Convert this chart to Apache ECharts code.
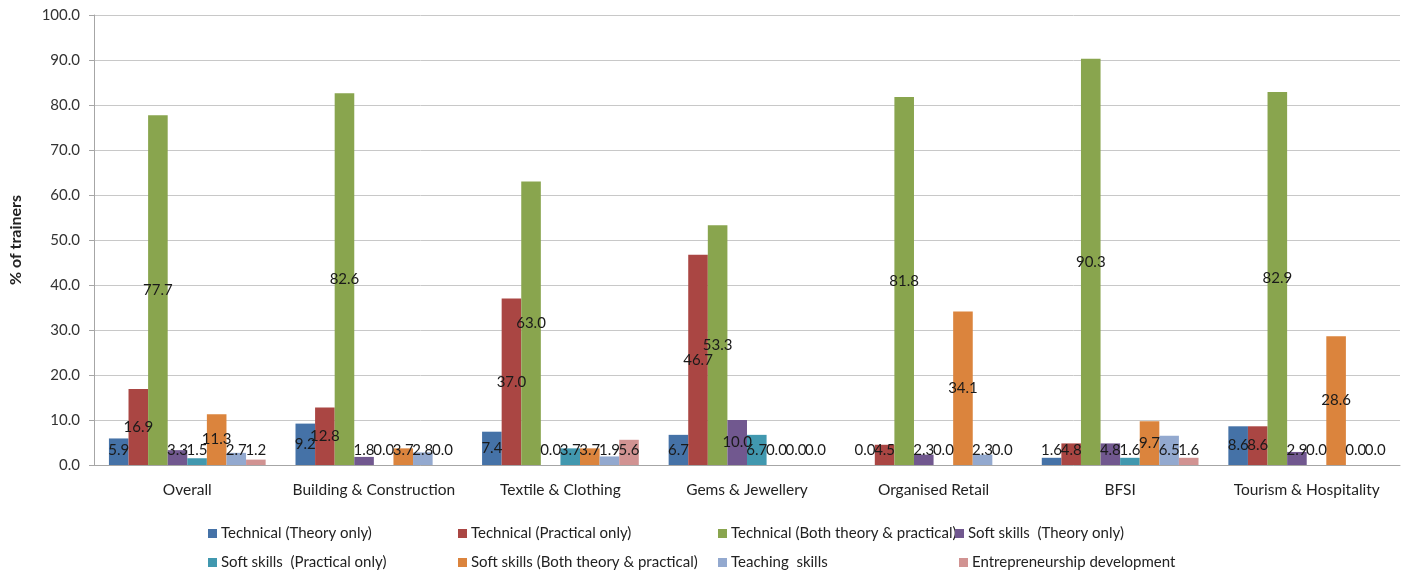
<!DOCTYPE html>
<html><head><meta charset="utf-8">
<script src="https://cdn.jsdelivr.net/npm/echarts@6/dist/echarts.min.js"></script>
<style>html,body{margin:0;padding:0;background:#fff}#c{width:1405px;height:574px}</style>
</head><body><div id="c"></div>
<script>
const categories = ["Overall","Building & Construction","Textile & Clothing","Gems & Jewellery","Organised Retail","BFSI","Tourism & Hospitality"];
const seriesNames = ["Technical (Theory only)","Technical (Practical only)","Technical (Both theory & practical)","Soft skills  (Theory only)","Soft skills  (Practical only)","Soft skills (Both theory & practical)","Teaching  skills","Entrepreneurship development"];
const techTheory     = [5.9, 9.2, 7.4, 6.7, 0.0, 1.6, 8.6];
const techPractical  = [16.9, 12.8, 37.0, 46.7, 4.5, 4.8, 8.6];
const techBoth       = [77.7, 82.6, 63.0, 53.3, 81.8, 90.3, 82.9];
const softTheory     = [3.3, 1.8, 0.0, 10.0, 2.3, 4.8, 2.9];
const softPractical  = [1.5, 0.0, 3.7, 6.7, 0.0, 1.6, 0.0];
const softBoth       = [11.3, 3.7, 3.7, 0.0, 34.1, 9.7, 28.6];
const teaching       = [2.7, 2.8, 1.9, 0.0, 2.3, 6.5, 0.0];
const entrepreneur   = [1.2, 0.0, 5.6, 0.0, 0.0, 1.6, 0.0];
const yTicks = [0,10,20,30,40,50,60,70,80,90,100];

const allData = [techTheory, techPractical, techBoth, softTheory, softPractical, softBoth, teaching, entrepreneur];
const colors = ['#4572A7','#AA4643','#89A54E','#71588F','#4198AF','#DB843D','#93A9CF','#D19392'];
const legendPos = [[208,526],[458,526],[718,526],[955,526],[208,555],[458,555],[718,555],[959,555]];
const font = 'Lato, "Liberation Sans", sans-serif';

const chart = echarts.init(document.getElementById('c'), null, {renderer:'canvas'});
chart.setOption({
  animation:false,
  color: colors,
  grid:{left:88, right:5, top:15, bottom:109, containLabel:false},
  legend: seriesNames.map((n,i)=>({
    data:[n], left:legendPos[i][0], top:legendPos[i][1], itemWidth:9, itemHeight:9, icon:'rect', itemGap:4,
    textStyle:{fontSize:15, color:'#222', fontFamily:font, padding:[0,0,0,-1]}, padding:0
  })),
  xAxis:{type:'category', data:categories,
    axisLine:{lineStyle:{color:'#a6a6a6'}}, axisTick:{show:false},
    axisLabel:{fontSize:15.5, color:'#222', margin:17, fontFamily:font, interval:0}},
  yAxis:{type:'value', min:0, max:100, interval:10,
    name:'% of trainers', nameLocation:'middle', nameGap:70, nameRotate:90,
    nameTextStyle:{fontSize:16, fontWeight:'bold', color:'#222', fontFamily:font},
    axisLine:{show:true, lineStyle:{color:'#a6a6a6'}},
    axisTick:{show:true, length:5, lineStyle:{color:'#a6a6a6'}},
    axisLabel:{fontSize:15, color:'#333', margin:14, fontFamily:font, formatter:v=>yTicks.includes(v)?v.toFixed(1):''},
    splitLine:{lineStyle:{color:'#c8c8c8', width:1}}},
  series: seriesNames.map((n,i)=>({
    name:n, type:'bar', data:allData[i], barGap:'0%', barCategoryGap:'16%',
    itemStyle:{color:colors[i]},
    label:{show:true, position:'inside', color:'#1a1a1a', fontSize:15, fontFamily:font, formatter:p=>p.value.toFixed(1)},
    labelLayout:function(p){
      const bottom = p.labelRect.y + p.labelRect.height;
      const limit = 458;
      return {hideOverlap:false, dy: bottom > limit ? limit - bottom : 0};
    }
  }))
});
</script></body></html>
